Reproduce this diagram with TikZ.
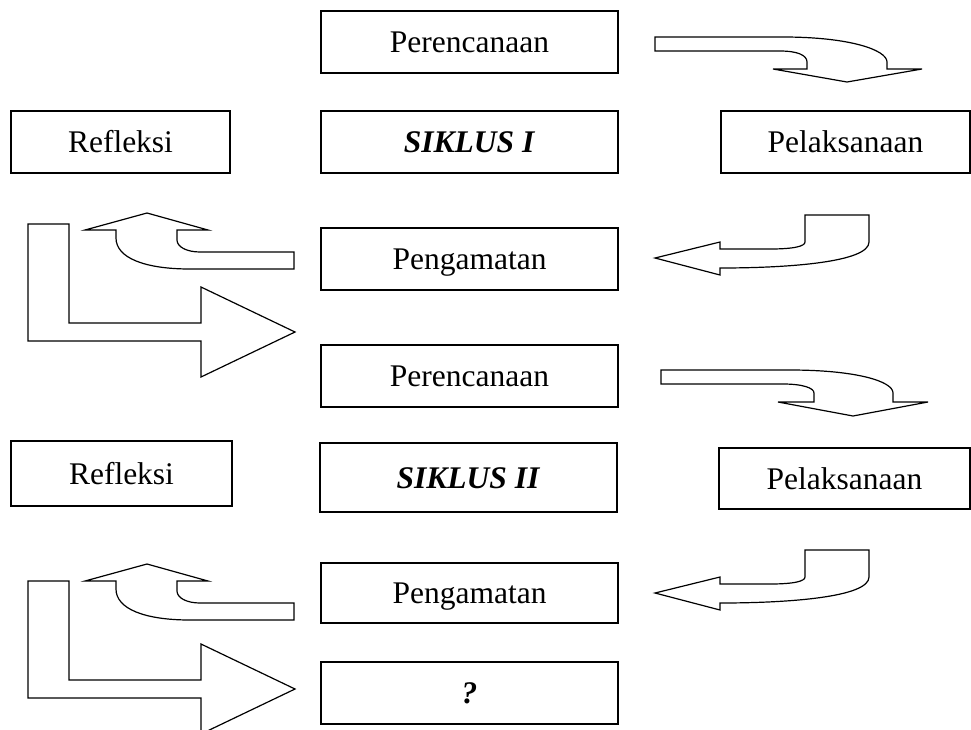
\documentclass[tikz,border=0pt]{standalone}
\usepackage{fontspec}
\setmainfont{Liberation Serif}
\begin{document}
\begin{tikzpicture}[x=1pt,y=-1pt,
  box/.style={draw, line width=1.3pt, inner sep=0pt, text height=21pt, text depth=0pt,
    font=\fontsize{31.5}{36}\selectfont, anchor=center},
  blockarrow/.style={draw, line width=1.2pt, line join=miter, fill=white}]
\useasboundingbox (0,0) rectangle (971,729);
\clip (0,0) rectangle (971,729);
% ---------- boxes ----------
\node[box, minimum width=297pt, minimum height=62pt] (p1) at (469.5,42) {Perencanaan};
\node[box, minimum width=219pt, minimum height=62pt] (r1) at (120.5,142) {Refleksi};
\node[box, minimum width=297pt, minimum height=62pt] (s1) at (469.5,142) {\textbf{\textit{SIKLUS I}}};
\node[box, minimum width=249pt, minimum height=62pt] (l1) at (845.5,142) {Pelaksanaan};
\node[box, minimum width=297pt, minimum height=62pt] (g1) at (469.5,259) {Pengamatan};
\node[box, minimum width=297pt, minimum height=62pt] (p2) at (469.5,376) {Perencanaan};
\node[box, minimum width=221pt, minimum height=65pt] (r2) at (121.5,473.5) {Refleksi};
\node[box, minimum width=297pt, minimum height=69pt] (s2) at (468.5,477.5) {\textbf{\textit{SIKLUS II}}};
\node[box, minimum width=251pt, minimum height=61pt] (l2) at (844.5,478.5) {Pelaksanaan};
\node[box, minimum width=297pt, minimum height=60pt] (g2) at (469.5,593) {Pengamatan};
\node[box, minimum width=297pt, minimum height=62pt] (q) at (469.5,693) {\textbf{\textit{?}}};
% ---------- curved arrow: Perencanaan -> Pelaksanaan ----------
\draw[blockarrow] (655,37) -- (783,37) .. controls (850,37) and (887,50) .. (887,62)
  -- (887,69) -- (922,69) -- (847,82) -- (773,69) -- (807,69) -- (807,62)
  .. controls (807,55) and (797,51) .. (780,51) -- (655,51) -- cycle;
\draw[blockarrow] (661,370) -- (790,370) .. controls (855,370) and (893,381) .. (893,393)
  -- (893,402) -- (928,402) -- (853,416) -- (778,402) -- (814,402) -- (814,393)
  .. controls (814,388) and (803,384) .. (783,384) -- (661,384) -- cycle;
% ---------- curved arrow: Pelaksanaan -> Pengamatan ----------
\foreach \dy in {0,335}{
\begin{scope}[shift={(0,\dy)}]
\draw[blockarrow] (805,215) -- (869,215) -- (869,242)
  .. controls (869,262) and (790,268) .. (720,268) -- (720,275) -- (655,258)
  -- (720,242) -- (720,249) -- (770,249) .. controls (795,249) and (805,246) .. (805,242) -- cycle;
\end{scope}}
% ---------- curved arrow: Pengamatan -> Refleksi ----------
\foreach \dy in {0,351}{
\begin{scope}[shift={(0,\dy)}]
\draw[blockarrow] (294,252) -- (200,252) .. controls (187,252) and (177,247) .. (177,240)
  -- (177,230) -- (208,230) -- (147,213) -- (85,230) -- (116,230) -- (116,238)
  .. controls (116,258) and (145,269) .. (190,269) -- (294,269) -- cycle;
\end{scope}}
% ---------- L arrow: Refleksi -> next ----------
\foreach \dy in {0,357}{
\begin{scope}[shift={(0,\dy)}]
\draw[blockarrow] (28,224) -- (69,224) -- (69,323) -- (201,323) -- (201,287)
  -- (295,332) -- (201,377) -- (201,341) -- (28,341) -- cycle;
\end{scope}}
\end{tikzpicture}
\end{document}
